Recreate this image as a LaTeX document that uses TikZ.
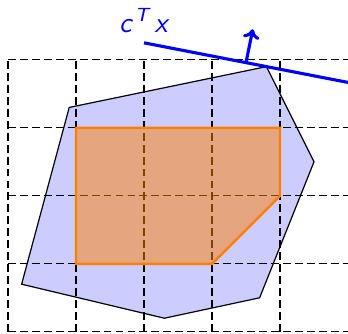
\documentclass[tikz,border=0pt]{standalone}
\usetikzlibrary{arrows.meta,calc}

\begin{document}
\begin{tikzpicture}[gridstyle/.style={dash pattern=on 3.3pt off 1.7pt,line width=.5pt},
    polystyle/.style={fill=blue!20,draw=black,line width=.5pt},
    hullstyle/.style={fill=orange,fill opacity=.5,draw=orange,draw opacity=1,line width=1pt},
    objstyle/.style={blue,line width=1.3pt}]
    \useasboundingbox (-0.118,-0.03) rectangle (5,4.88);
    \draw[polystyle] (0.9,3.3)--(3.8,3.9)--(4.5,2.5)--(3.7,0.5)--(2.3,0.2)--(0.2,0.7)--cycle;
    \foreach \x in {0,...,4} \draw[gridstyle] (\x,0)--(\x,4);
    \foreach \y in {0,...,4} \draw[gridstyle] (0,\y)--(5.1,\y);
    \draw[hullstyle] (1,1)--(1,3)--(4,3)--(4,2)--(3,1)--cycle;
    % objective line through the top vertex
    \coordinate (objstart) at (2,4.25);
    \coordinate (objend) at (5.4,3.59);
    \coordinate (foot) at (3.5,3.96);
    \coordinate (tip) at (3.6,4.45);
    \draw[objstyle] (objstart)--(objend);
    \draw[objstyle,-{To[length=4pt,width=7pt]}] (foot)--(tip);
    \node[blue,font=\large\sffamily\slshape] (obj) at (1.99,4.58) {c\textsuperscript{\,T}\,x};
\end{tikzpicture}
\end{document}
